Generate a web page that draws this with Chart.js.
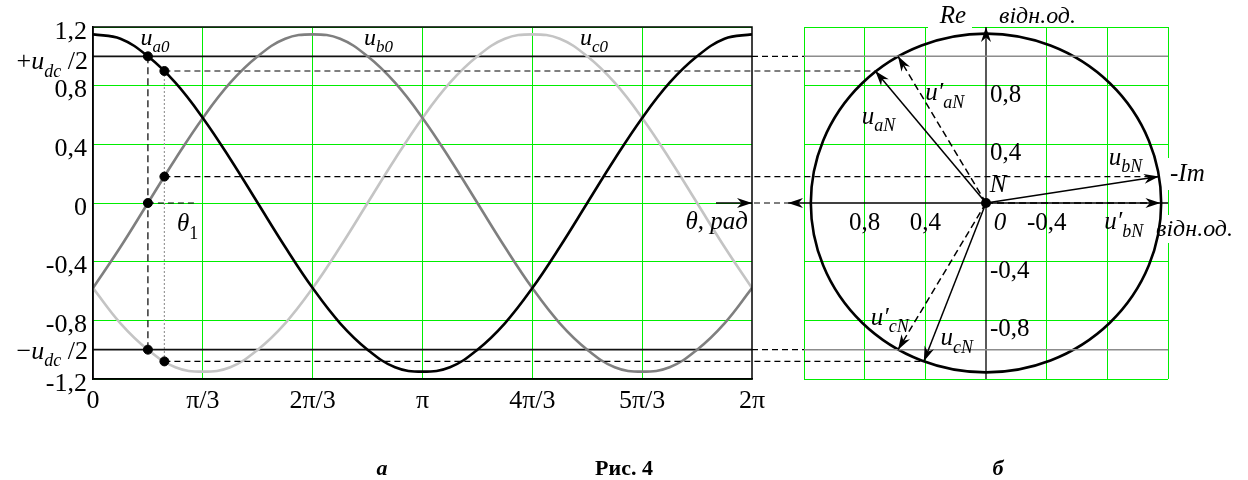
<!DOCTYPE html>
<html>
<head>
<meta charset="utf-8">
<script src="https://cdn.jsdelivr.net/npm/chart.js@4.4.0/dist/chart.umd.min.js"></script>
<style>
  html, body { margin: 0; padding: 0; background: #fff; }
  #wrap { position: relative; width: 1248px; height: 480px; }
  canvas { position: absolute; left: 0; top: 0; }
</style>
</head>
<body>
<div id="wrap">
  <canvas id="waves" width="1248" height="480"></canvas>
  <canvas id="phasor" width="1248" height="480"></canvas>
</div>
<script>
const FONT = 'Liberation Serif';
const GREEN = '#00ee00';

// --- (a) phase voltages vs angle, every 15 degrees
const thetaDeg = [0, 15, 30, 45, 60, 75, 90, 105, 120, 135, 150, 165, 180, 195, 210, 225, 240, 255, 270, 285, 300, 315, 330, 345, 360];
const ua0 = [1.15, 1.12, 1.0, 0.82, 0.58, 0.30, 0, -0.30, -0.58, -0.82, -1.0, -1.12, -1.15, -1.12, -1.0, -0.82, -0.58, -0.30, 0, 0.30, 0.58, 0.82, 1.0, 1.12, 1.15];
const ub0 = [-0.58, -0.30, 0, 0.30, 0.58, 0.82, 1.0, 1.12, 1.15, 1.12, 1.0, 0.82, 0.58, 0.30, 0, -0.30, -0.58, -0.82, -1.0, -1.12, -1.15, -1.12, -1.0, -0.82, -0.58];
const uc0 = [-0.58, -0.82, -1.0, -1.12, -1.15, -1.12, -1.0, -0.82, -0.58, -0.30, 0, 0.30, 0.58, 0.82, 1.0, 1.12, 1.15, 1.12, 1.0, 0.82, 0.58, 0.30, 0, -0.30, -0.58];
const thetaTicks = [0, 60, 120, 180, 240, 300, 360];
const thetaTickLabels = ['0', 'π/3', '2π/3', 'π', '4π/3', '5π/3', '2π'];
const yTicks = [-1.2, -0.8, -0.4, 0, 0.4, 0.8, 1.2];
const yTickLabels = ['-1,2', '-0,8', '-0,4', '0', '0,4', '0,8', '1,2'];
const udcHalf = 1.0;
const theta1 = 30;
const theta2 = 39;
const dotTheta = [30, 30, 30, 39, 39, 39];
const dotValue = [1.0, 0, -1.0, 0.90, 0.18, -1.08];
const curveNames = ['a0', 'b0', 'c0'];
const curveLabelTheta = [26, 148, 266];

// --- (b) space vectors: x axis is -Im (positive to the left), y axis is Re
const phasorNames = ['aN', 'bN', 'cN'];
const phasorRe = [0.90, 0.18, -1.08];
const phasorIm = [0.73, -1.14, 0.41];
const phasorRe1 = [1.0, 0, -1.0];
const phasorIm1 = [0.58, -1.15, 0.58];
const circleRadius = 1.155;
const bTicks = [-1.2, -0.8, -0.4, 0, 0.4, 0.8, 1.2];
const bVertLabels = [[0.8, '0,8'], [0.4, '0,4'], [-0.4, '-0,4'], [-0.8, '-0,8']];
const bHorLabels = [[0.8, '0,8'], [0.4, '0,4'], [-0.4, '-0,4']];
const labelIm = [0.82, -0.81, 0.30];
const labelRe = [0.54, 0.26, -0.97];
const labelIm1 = [0.40, -0.78, 0.76];
const labelRe1 = [0.70, -0.18, -0.83];

const pts = (xs, ys) => xs.map((v, i) => ({ x: v, y: ys[i] }));
const pickLabel = (vals, labels, v) => {
  const i = vals.findIndex(t => Math.abs(t - v) < 1e-6);
  return i < 0 ? '' : labels[i];
};

// text made of runs: n normal, i italic, s italic subscript, sn upright subscript, b bold, bi bold italic
function drawRuns(ctx, x, y, parts, size, align) {
  const fontOf = k => {
    const small = Math.round(size * 0.7);
    if (k === 's') return `italic ${small}px ${FONT}`;
    if (k === 'sn') return `${small}px ${FONT}`;
    if (k === 'i') return `italic ${size}px ${FONT}`;
    if (k === 'b') return `bold ${size}px ${FONT}`;
    if (k === 'bi') return `bold italic ${size}px ${FONT}`;
    return `${size}px ${FONT}`;
  };
  let w = 0;
  parts.forEach(([t, k]) => { ctx.font = fontOf(k); w += ctx.measureText(t).width; });
  let cx = align === 'right' ? x - w : align === 'center' ? x - w / 2 : x;
  ctx.textAlign = 'left';
  ctx.textBaseline = 'alphabetic';
  ctx.fillStyle = '#000';
  parts.forEach(([t, k]) => {
    ctx.font = fontOf(k);
    const dy = (k === 's' || k === 'sn') ? size * 0.3 : 0;
    ctx.fillText(t, cx, y + dy);
    cx += ctx.measureText(t).width;
  });
  return w;
}

function arrowHead(ctx, x1, y1, x2, y2, len, half) {
  const a = Math.atan2(y2 - y1, x2 - x1);
  const c = Math.cos(a), s = Math.sin(a);
  ctx.beginPath();
  ctx.moveTo(x2, y2);
  ctx.lineTo(x2 - len * c + half * s, y2 - len * s - half * c);
  ctx.lineTo(x2 - len * 0.7 * c, y2 - len * 0.7 * s);
  ctx.lineTo(x2 - len * c - half * s, y2 - len * s + half * c);
  ctx.closePath();
  ctx.fill();
}

const wavesDecor = {
  id: 'wavesDecor',
  afterDraw(chart) {
    const { ctx, chartArea: a, scales: { x, y } } = chart;
    ctx.save();
    ctx.strokeStyle = '#000';
    ctx.lineWidth = 1.5;
    ctx.strokeRect(a.left, a.top, a.right - a.left, a.bottom - a.top);

    // curve names
    curveNames.forEach((n, i) => {
      drawRuns(ctx, x.getPixelForValue(curveLabelTheta[i]), y.getPixelForValue(1.077),
        [['u', 'i'], [n, 's']], 24, 'left');
    });
    // theta1
    drawRuns(ctx, x.getPixelForValue(theta1) + 29, y.getPixelForValue(0) + 28, [['θ', 'i'], ['1', 'sn']], 25, 'left');
    // axis name
    drawRuns(ctx, a.right - 4, y.getPixelForValue(0) + 26, [['θ, рад', 'i']], 25, 'right');
    // +udc/2 and -udc/2
    drawRuns(ctx, a.left - 5, y.getPixelForValue(udcHalf) + 13, [['+', 'n'], ['u', 'i'], ['dc', 's'], [' /2', 'n']], 26, 'right');
    drawRuns(ctx, a.left - 5, y.getPixelForValue(-udcHalf) + 9, [['−', 'n'], ['u', 'i'], ['dc', 's'], [' /2', 'n']], 26, 'right');

    // captions
    drawRuns(ctx, 382, 475, [['а', 'bi']], 22, 'center');
    drawRuns(ctx, 624, 475, [['Рис. 4', 'b']], 22, 'center');
    drawRuns(ctx, 998, 475, [['б', 'bi']], 22, 'center');
    ctx.restore();
  }
};

const curveStyle = { borderWidth: 2.6, showLine: true, pointRadius: 0, tension: 0.4 };

const chartA = new Chart(document.getElementById('waves'), {
  type: 'scatter',
  data: {
    datasets: [
      { data: pts(dotTheta, dotValue), pointRadius: 4.5, backgroundColor: '#000', borderColor: '#000', showLine: false },
      { data: pts(thetaDeg, ua0), borderColor: '#000', ...curveStyle },
      { data: pts(thetaDeg, ub0), borderColor: '#7f7f7f', ...curveStyle },
      { data: pts(thetaDeg, uc0), borderColor: '#c4c4c4', ...curveStyle },
      { data: pts([0, 360], [udcHalf, udcHalf]), borderColor: '#111', borderWidth: 1.6, showLine: true, pointRadius: 0 },
      { data: pts([0, 360], [-udcHalf, -udcHalf]), borderColor: '#111', borderWidth: 1.6, showLine: true, pointRadius: 0 },
      { data: pts([theta1, theta1], [udcHalf, -udcHalf]), borderColor: '#000', borderWidth: 1.2, borderDash: [7, 4], showLine: true, pointRadius: 0 },
      { data: pts([theta2, theta2], [dotValue[3], dotValue[5]]), borderColor: '#9a9a9a', borderWidth: 1.2, borderDash: [2, 2], showLine: true, pointRadius: 0 }
    ]
  },
  options: {
    responsive: false,
    animation: false,
    devicePixelRatio: 1,
    layout: { padding: { left: 0, top: 27, right: 496, bottom: 0 } },
    plugins: { legend: { display: false }, tooltip: { enabled: false } },
    scales: {
      x: {
        type: 'linear', min: 0, max: 360,
        afterFit: s => { s.height = 101; },
        border: { color: '#000', width: 1.5 },
        grid: { color: c => (c.tick.value === 0 || c.tick.value === 360) ? 'rgba(0,0,0,0)' : GREEN, drawTicks: false, lineWidth: 1 },
        afterBuildTicks: s => { s.ticks = thetaTicks.map(v => ({ value: v })); },
        ticks: { autoSkip: false, maxRotation: 0, padding: 7, color: '#000', font: { family: FONT, size: 26 },
          callback: v => pickLabel(thetaTicks, thetaTickLabels, v) }
      },
      y: {
        min: -1.2, max: 1.2,
        afterFit: s => { s.width = 93; },
        border: { color: '#000', width: 1.5 },
        grid: { color: GREEN, drawTicks: false, lineWidth: 1 },
        afterBuildTicks: s => { s.ticks = yTicks.map(v => ({ value: v })); },
        ticks: { autoSkip: false, padding: 6, labelOffset: 5, color: '#000', font: { family: FONT, size: 26 },
          callback: v => pickLabel(yTicks, yTickLabels, v) }
      }
    }
  },
  plugins: [wavesDecor]
});

const phasorDecor = {
  id: 'phasorDecor',
  beforeDatasetsDraw(chart) {
    const { ctx, chartArea: b, scales: { x, y } } = chart;
    const A = chartA.scales.x, aArea = chartA.chartArea;
    ctx.save();
    // dashed links from the time diagram
    ctx.strokeStyle = '#000';
    ctx.lineWidth = 1.2;
    ctx.setLineDash([6, 4]);
    const sx = A.getPixelForValue(theta2);
    phasorRe.forEach((re, i) => {
      const py = y.getPixelForValue(re);
      ctx.beginPath(); ctx.moveTo(sx, py); ctx.lineTo(x.getPixelForValue(phasorIm[i]), py); ctx.stroke();
    });
    [udcHalf, -udcHalf].forEach(v => {
      const py = y.getPixelForValue(v);
      ctx.beginPath(); ctx.moveTo(aArea.right, py); ctx.lineTo(b.left, py); ctx.stroke();
    });
    const y0 = y.getPixelForValue(0), x0 = x.getPixelForValue(0);
    ctx.beginPath(); ctx.moveTo(A.getPixelForValue(theta1), y0); ctx.lineTo(A.getPixelForValue(57), y0); ctx.stroke();
    ctx.beginPath(); ctx.moveTo(aArea.right + 2, y0); ctx.lineTo(b.left - 16, y0); ctx.stroke();
    ctx.setLineDash([]);

    // axes
    ctx.fillStyle = '#000';
    ctx.lineWidth = 1.3;
    ctx.beginPath(); ctx.moveTo(b.left - 16, y0); ctx.lineTo(b.right, y0); ctx.stroke();
    arrowHead(ctx, b.left, y0, b.left - 16, y0, 15, 5);
    ctx.beginPath(); ctx.moveTo(x0, b.bottom); ctx.lineTo(x0, b.top); ctx.stroke();
    arrowHead(ctx, x0, b.top + 30, x0, b.top, 15, 5);
    ctx.beginPath(); ctx.moveTo(aArea.right - 36, y0); ctx.lineTo(aArea.right, y0); ctx.stroke();
    arrowHead(ctx, aArea.right - 36, y0, aArea.right, y0, 15, 5);

    // circle of the vector tips
    ctx.lineWidth = 2.6;
    ctx.beginPath();
    ctx.ellipse(x0, y0, Math.abs(x.getPixelForValue(circleRadius) - x0), Math.abs(y.getPixelForValue(circleRadius) - y0), 0, 0, Math.PI * 2);
    ctx.stroke();
    ctx.restore();
  },
  afterDatasetsDraw(chart) {
    const { ctx, chartArea: b, scales: { x, y } } = chart;
    const x0 = x.getPixelForValue(0), y0 = y.getPixelForValue(0);
    ctx.save();
    ctx.fillStyle = '#000';
    chart.data.datasets.forEach((ds, i) => {
      if (!ds.isVector) return;
      const m = chart.getDatasetMeta(i).data;
      arrowHead(ctx, m[0].x, m[0].y, m[1].x, m[1].y, 15, 5);
    });
    ctx.beginPath(); ctx.arc(x0, y0, 5, 0, Math.PI * 2); ctx.fill();

    // label backgrounds that break the grid
    ctx.fillStyle = '#fff';
    ctx.fillRect(x0 - 58, b.top - 24, 44, 28);
    ctx.fillRect(b.right - 3, y0 - 45, 8, 32);
    ctx.fillRect(b.right - 3, y0 + 12, 8, 28);

    drawRuns(ctx, x0 - 20, b.top - 4, [['Re', 'i']], 25, 'right');
    drawRuns(ctx, x0 + 13, b.top - 4, [['відн.од.', 'i']], 24, 'left');
    drawRuns(ctx, b.right + 2, y0 - 22, [['-Im', 'i']], 25, 'left');
    drawRuns(ctx, b.right - 12, y0 + 33, [['відн.од.', 'i']], 24, 'left');
    bVertLabels.forEach(([v, t]) => drawRuns(ctx, x0 + 4, y.getPixelForValue(v) + 16, [[t, 'n']], 25, 'left'));
    bHorLabels.forEach(([v, t]) => drawRuns(ctx, x.getPixelForValue(v), y0 + 27, [[t, 'n']], 25, 'center'));
    drawRuns(ctx, x0 + 14, y0 + 27, [['0', 'i']], 25, 'center');
    drawRuns(ctx, x0 + 12, y0 - 11, [['N', 'i']], 25, 'center');
    phasorNames.forEach((n, i) => {
      drawRuns(ctx, x.getPixelForValue(labelIm[i]), y.getPixelForValue(labelRe[i]), [['u', 'i'], [n, 's']], 25, 'left');
      drawRuns(ctx, x.getPixelForValue(labelIm1[i]), y.getPixelForValue(labelRe1[i]), [['u′', 'i'], [n, 's']], 25, 'left');
    });
    ctx.restore();
  }
};

const vectorSets = [];
phasorNames.forEach((n, i) => {
  vectorSets.push({ isVector: true, data: pts([0, phasorIm[i]], [0, phasorRe[i]]), borderColor: '#000', borderWidth: 1.5, showLine: true, pointRadius: 0 });
  vectorSets.push({ isVector: true, data: pts([0, phasorIm1[i]], [0, phasorRe1[i]]), borderColor: '#000', borderWidth: 1.5, borderDash: [7, 4], showLine: true, pointRadius: 0 });
});

const chartB = new Chart(document.getElementById('phasor'), {
  type: 'scatter',
  data: {
    datasets: [
      ...vectorSets,
      { data: pts([1.2, -1.2], [udcHalf, udcHalf]), borderColor: '#8c8c8c', borderWidth: 1.5, showLine: true, pointRadius: 0 },
      { data: pts([1.2, -1.2], [-udcHalf, -udcHalf]), borderColor: '#8c8c8c', borderWidth: 1.5, showLine: true, pointRadius: 0 }
    ]
  },
  options: {
    responsive: false,
    animation: false,
    devicePixelRatio: 1,
    layout: { padding: { left: 804, top: 27, right: 80, bottom: 101 } },
    plugins: { legend: { display: false }, tooltip: { enabled: false } },
    scales: {
      x: {
        type: 'linear', min: -1.2, max: 1.2, reverse: true,
        afterFit: s => { s.height = 0; },
        border: { display: false },
        afterBuildTicks: s => { s.ticks = bTicks.map(v => ({ value: v })); },
        grid: { color: c => Math.abs(c.tick.value) < 1e-6 ? 'rgba(0,0,0,0)' : GREEN, drawTicks: false, lineWidth: 1 },
        ticks: { display: false }
      },
      y: {
        min: -1.2, max: 1.2,
        afterFit: s => { s.width = 0; },
        border: { display: false },
        afterBuildTicks: s => { s.ticks = bTicks.map(v => ({ value: v })); },
        grid: { color: c => Math.abs(c.tick.value) < 1e-6 ? 'rgba(0,0,0,0)' : GREEN, drawTicks: false, lineWidth: 1 },
        ticks: { display: false }
      }
    }
  },
  plugins: [phasorDecor]
});
</script>
</body>
</html>
